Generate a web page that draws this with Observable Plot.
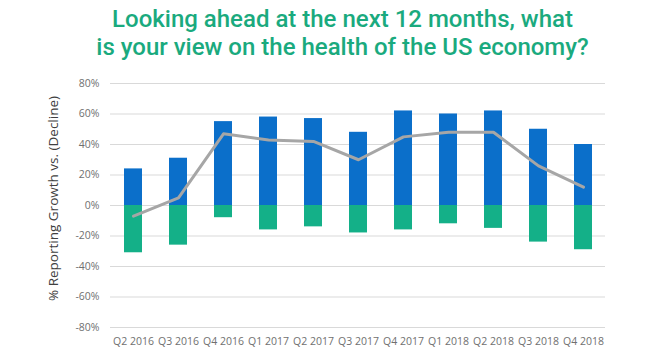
<!DOCTYPE html>
<html><head><meta charset="utf-8">
<script src="https://cdn.jsdelivr.net/npm/d3@7"></script>
<script src="https://cdn.jsdelivr.net/npm/@observablehq/plot@0.6"></script>
<style>
body{margin:0;background:#fff;width:653px;overflow:hidden;}
#title{height:68px;box-sizing:border-box;padding-top:5px;padding-left:32px;text-align:center;font-family:Roboto,sans-serif;font-weight:500;font-size:24px;line-height:28px;color:#1aaa7e;}
</style></head><body>
<div id="title">Looking ahead at the next 12 months, what<br>is your view on the health of the US economy?</div>
<div id="chart"></div>
<script>
const quarters = ["Q2 2016","Q3 2016","Q4 2016","Q1 2017","Q2 2017","Q3 2017","Q4 2017","Q1 2018","Q2 2018","Q3 2018","Q4 2018"];
const growth = [24, 31, 55, 58, 57, 48, 62, 60, 62, 50, 40];
const decline = [-31, -26, -8, -16, -14, -18, -16, -12, -15, -24, -29];
const net = [-7, 5, 47, 43, 42, 30, 45, 48, 48, 26, 12];
const yTicks = [-80, -60, -40, -20, 0, 20, 40, 60, 80];
const yTitle = "% Reporting Growth vs. (Decline)";

const growthRows = quarters.map((q, i) => ({q, v: growth[i]}));
const declineRows = quarters.map((q, i) => ({q, v: decline[i]}));
const netRows = quarters.map((q, i) => ({q, v: net[i]}));

const chart = Plot.plot({
  width: 653, height: 287,
  marginTop: 15, marginBottom: 28, marginLeft: 110, marginRight: 48,
  style: {fontFamily: "'Open Sans', sans-serif", fontSize: "10.5px", color: "#707070", background: "#fff"},
  x: {domain: quarters, paddingInner: 0.6, paddingOuter: 0.3, label: null, tickSize: 0, tickPadding: 10},
  y: {domain: [-80, 80], ticks: yTicks, tickFormat: d => d + "%", label: null, tickSize: 0, tickPadding: 11},
  marks: [
    Plot.ruleY(yTicks, {stroke: "#d9d9d9", strokeWidth: 1}),
    Plot.barY(growthRows, {x: "q", y1: 0, y2: "v", fill: "#0b6fca"}),
    Plot.barY(declineRows, {x: "q", y1: 0, y2: "v", fill: "#14b088"}),
    Plot.line(netRows, {x: "q", y: "v", stroke: "#a6a6a6", strokeWidth: 3}),
    Plot.text([yTitle], {text: d => d, frameAnchor: "left", textAnchor: "middle", dx: -57, dy: -7, rotate: -90, fontSize: 13.5, fill: "#404040", fontFamily: "'Open Sans', sans-serif"})
  ]
});
document.getElementById("chart").appendChild(chart);
</script>
</body></html>
